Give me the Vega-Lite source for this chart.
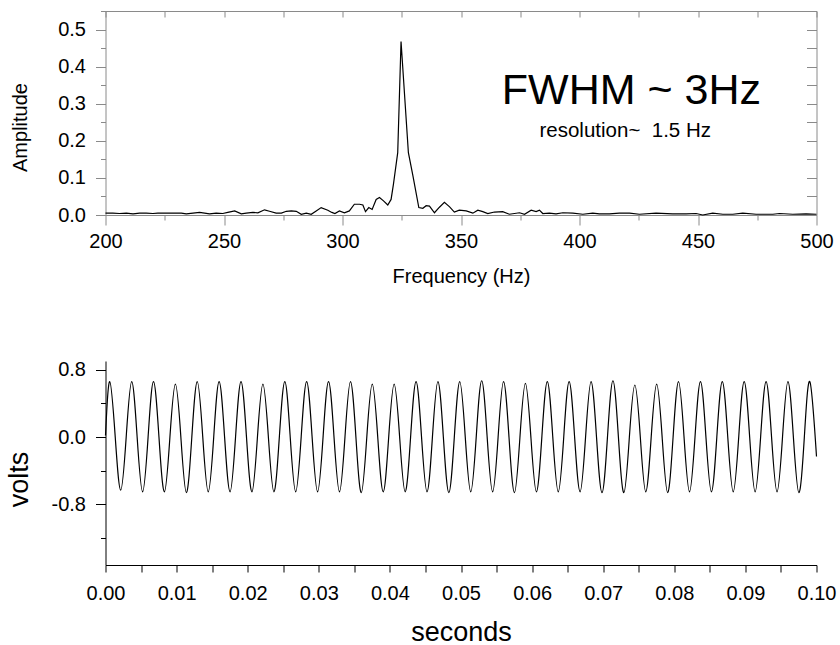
{
  "$schema": "https://vega.github.io/schema/vega-lite/v6.json",
  "background": "white",
  "padding": {"left": 5.5, "top": 10, "right": 0, "bottom": 0},
  "spacing": 73,
  "config": {
    "font": "Liberation Sans",
    "view": {"stroke": null},
    "axis": {"grid": false, "labelFont": "Liberation Sans", "labelFontSize": 20, "labelColor": "#000", "titleFont": "Liberation Sans", "titleFontWeight": "normal", "titleColor": "#000", "tickWidth": 1, "domainWidth": 1, "labelFlush": false}
  },
  "datasets": {
    "spectrum": [
      {"f": 200.0, "a": 0.005}, {"f": 203.1, "a": 0.005}, {"f": 205.9, "a": 0.004}, {"f": 208.8, "a": 0.005}, {"f": 211.6, "a": 0.003},
      {"f": 214.4, "a": 0.005}, {"f": 217.2, "a": 0.005}, {"f": 220.0, "a": 0.004}, {"f": 222.1, "a": 0.005}, {"f": 225.6, "a": 0.005},
      {"f": 229.8, "a": 0.005}, {"f": 232.0, "a": 0.005}, {"f": 234.1, "a": 0.003}, {"f": 236.9, "a": 0.005}, {"f": 239.7, "a": 0.007},
      {"f": 241.8, "a": 0.005}, {"f": 243.9, "a": 0.003}, {"f": 246.7, "a": 0.005}, {"f": 249.5, "a": 0.004}, {"f": 251.6, "a": 0.007},
      {"f": 254.5, "a": 0.011}, {"f": 257.3, "a": 0.003}, {"f": 259.4, "a": 0.005}, {"f": 262.2, "a": 0.007}, {"f": 264.3, "a": 0.006},
      {"f": 267.1, "a": 0.014}, {"f": 269.2, "a": 0.010}, {"f": 272.0, "a": 0.005}, {"f": 274.2, "a": 0.005}, {"f": 276.3, "a": 0.010},
      {"f": 278.4, "a": 0.011}, {"f": 280.5, "a": 0.010}, {"f": 282.6, "a": 0.002}, {"f": 284.7, "a": 0.005}, {"f": 286.8, "a": 0.002},
      {"f": 288.9, "a": 0.011}, {"f": 291.0, "a": 0.020}, {"f": 293.8, "a": 0.013}, {"f": 295.5, "a": 0.007}, {"f": 296.8, "a": 0.004},
      {"f": 298.7, "a": 0.011}, {"f": 300.8, "a": 0.006}, {"f": 302.9, "a": 0.011}, {"f": 305.0, "a": 0.029}, {"f": 307.2, "a": 0.029},
      {"f": 308.6, "a": 0.027}, {"f": 309.7, "a": 0.009}, {"f": 311.1, "a": 0.020}, {"f": 312.5, "a": 0.015}, {"f": 314.2, "a": 0.042},
      {"f": 315.6, "a": 0.047}, {"f": 317.3, "a": 0.038}, {"f": 319.1, "a": 0.027}, {"f": 320.5, "a": 0.042}, {"f": 321.5, "a": 0.083},
      {"f": 323.3, "a": 0.168}, {"f": 324.7, "a": 0.468}, {"f": 327.8, "a": 0.168}, {"f": 329.7, "a": 0.106}, {"f": 332.2, "a": 0.020},
      {"f": 333.9, "a": 0.018}, {"f": 335.3, "a": 0.025}, {"f": 336.7, "a": 0.024}, {"f": 338.8, "a": 0.006}, {"f": 340.9, "a": 0.021},
      {"f": 343.0, "a": 0.034}, {"f": 345.2, "a": 0.022}, {"f": 347.2, "a": 0.008}, {"f": 349.3, "a": 0.013}, {"f": 352.2, "a": 0.011},
      {"f": 355.0, "a": 0.005}, {"f": 357.1, "a": 0.013}, {"f": 359.2, "a": 0.009}, {"f": 361.3, "a": 0.004}, {"f": 364.1, "a": 0.008},
      {"f": 367.6, "a": 0.009}, {"f": 370.4, "a": 0.002}, {"f": 374.7, "a": 0.006}, {"f": 376.8, "a": 0.002}, {"f": 379.6, "a": 0.013},
      {"f": 381.7, "a": 0.009}, {"f": 383.1, "a": 0.013}, {"f": 384.5, "a": 0.004}, {"f": 387.3, "a": 0.005}, {"f": 390.1, "a": 0.003},
      {"f": 393.0, "a": 0.006}, {"f": 397.2, "a": 0.005}, {"f": 401.4, "a": 0.002}, {"f": 405.6, "a": 0.005}, {"f": 408.4, "a": 0.003},
      {"f": 412.6, "a": 0.003}, {"f": 416.8, "a": 0.005}, {"f": 421.1, "a": 0.005}, {"f": 425.3, "a": 0.002}, {"f": 432.3, "a": 0.005},
      {"f": 439.3, "a": 0.003}, {"f": 445.0, "a": 0.003}, {"f": 449.2, "a": 0.004}, {"f": 452.0, "a": 0.000}, {"f": 456.2, "a": 0.005},
      {"f": 460.5, "a": 0.002}, {"f": 464.7, "a": 0.002}, {"f": 468.9, "a": 0.005}, {"f": 474.5, "a": 0.002}, {"f": 481.6, "a": 0.002},
      {"f": 484.4, "a": 0.004}, {"f": 490.0, "a": 0.002}, {"f": 495.6, "a": 0.003}, {"f": 500.0, "a": 0.002}
    ],
    "wave": [
      {"t": 0, "v": 0.02}, {"t": 0.0006, "v": 0.66}, {"t": 0.00137, "v": 0}, {"t": 0.00214, "v": -0.63}, {"t": 0.00291, "v": 0},
      {"t": 0.00368, "v": 0.66}, {"t": 0.00445, "v": 0}, {"t": 0.00522, "v": -0.65}, {"t": 0.00599, "v": 0},
      {"t": 0.00675, "v": 0.66}, {"t": 0.00752, "v": 0}, {"t": 0.00829, "v": -0.65}, {"t": 0.00906, "v": 0},
      {"t": 0.00983, "v": 0.63}, {"t": 0.0106, "v": 0}, {"t": 0.01137, "v": -0.66}, {"t": 0.01214, "v": 0},
      {"t": 0.01291, "v": 0.66}, {"t": 0.01368, "v": 0}, {"t": 0.01445, "v": -0.65}, {"t": 0.01522, "v": 0},
      {"t": 0.01598, "v": 0.66}, {"t": 0.01675, "v": 0}, {"t": 0.01752, "v": -0.65}, {"t": 0.01829, "v": 0},
      {"t": 0.01906, "v": 0.66}, {"t": 0.01983, "v": 0}, {"t": 0.0206, "v": -0.65}, {"t": 0.02137, "v": 0},
      {"t": 0.02214, "v": 0.63}, {"t": 0.02291, "v": 0}, {"t": 0.02368, "v": -0.65}, {"t": 0.02445, "v": 0},
      {"t": 0.02522, "v": 0.66}, {"t": 0.02598, "v": 0}, {"t": 0.02675, "v": -0.65}, {"t": 0.02752, "v": 0},
      {"t": 0.02829, "v": 0.66}, {"t": 0.02906, "v": 0}, {"t": 0.02983, "v": -0.65}, {"t": 0.0306, "v": 0},
      {"t": 0.03137, "v": 0.66}, {"t": 0.03214, "v": 0}, {"t": 0.03291, "v": -0.65}, {"t": 0.03368, "v": 0},
      {"t": 0.03445, "v": 0.66}, {"t": 0.03522, "v": 0}, {"t": 0.03598, "v": -0.66}, {"t": 0.03675, "v": 0},
      {"t": 0.03752, "v": 0.63}, {"t": 0.03829, "v": 0}, {"t": 0.03906, "v": -0.65}, {"t": 0.03983, "v": 0},
      {"t": 0.0406, "v": 0.63}, {"t": 0.04137, "v": 0}, {"t": 0.04214, "v": -0.65}, {"t": 0.04291, "v": 0},
      {"t": 0.04368, "v": 0.66}, {"t": 0.04445, "v": 0}, {"t": 0.04522, "v": -0.65}, {"t": 0.04598, "v": 0},
      {"t": 0.04675, "v": 0.66}, {"t": 0.04752, "v": 0}, {"t": 0.04829, "v": -0.66}, {"t": 0.04906, "v": 0},
      {"t": 0.04983, "v": 0.66}, {"t": 0.0506, "v": 0}, {"t": 0.05137, "v": -0.65}, {"t": 0.05214, "v": 0},
      {"t": 0.05291, "v": 0.67}, {"t": 0.05368, "v": 0}, {"t": 0.05445, "v": -0.65}, {"t": 0.05522, "v": 0},
      {"t": 0.05598, "v": 0.66}, {"t": 0.05675, "v": 0}, {"t": 0.05752, "v": -0.66}, {"t": 0.05829, "v": 0},
      {"t": 0.05906, "v": 0.64}, {"t": 0.05983, "v": 0}, {"t": 0.0606, "v": -0.65}, {"t": 0.06137, "v": 0},
      {"t": 0.06214, "v": 0.66}, {"t": 0.06291, "v": 0}, {"t": 0.06368, "v": -0.65}, {"t": 0.06445, "v": 0},
      {"t": 0.06521, "v": 0.66}, {"t": 0.06598, "v": 0}, {"t": 0.06675, "v": -0.65}, {"t": 0.06752, "v": 0},
      {"t": 0.06829, "v": 0.66}, {"t": 0.06906, "v": 0}, {"t": 0.06983, "v": -0.66}, {"t": 0.0706, "v": 0},
      {"t": 0.07137, "v": 0.67}, {"t": 0.07214, "v": 0}, {"t": 0.07291, "v": -0.66}, {"t": 0.07368, "v": 0},
      {"t": 0.07445, "v": 0.62}, {"t": 0.07522, "v": 0}, {"t": 0.07598, "v": -0.65}, {"t": 0.07675, "v": 0},
      {"t": 0.07752, "v": 0.63}, {"t": 0.07829, "v": 0}, {"t": 0.07906, "v": -0.66}, {"t": 0.07983, "v": 0},
      {"t": 0.0806, "v": 0.66}, {"t": 0.08137, "v": 0}, {"t": 0.08214, "v": -0.65}, {"t": 0.08291, "v": 0},
      {"t": 0.08368, "v": 0.66}, {"t": 0.08445, "v": 0}, {"t": 0.08522, "v": -0.65}, {"t": 0.08598, "v": 0},
      {"t": 0.08675, "v": 0.66}, {"t": 0.08752, "v": 0}, {"t": 0.08829, "v": -0.65}, {"t": 0.08906, "v": 0},
      {"t": 0.08983, "v": 0.66}, {"t": 0.0906, "v": 0}, {"t": 0.09137, "v": -0.65}, {"t": 0.09214, "v": 0},
      {"t": 0.09291, "v": 0.66}, {"t": 0.09368, "v": 0}, {"t": 0.09445, "v": -0.65}, {"t": 0.09522, "v": 0},
      {"t": 0.09598, "v": 0.66}, {"t": 0.09675, "v": 0}, {"t": 0.09752, "v": -0.66}, {"t": 0.09829, "v": 0},
      {"t": 0.09906, "v": 0.66}, {"t": 0.1, "v": -0.23}
    ]
  },
  "vconcat": [
    {
      "width": 711,
      "height": 204,
      "data": {"name": "spectrum"},
      "layer": [
        {
          "mark": {"type": "line", "color": "#000", "strokeWidth": 1.2},
          "encoding": {
            "x": {"field": "f", "type": "quantitative", "scale": {"domain": [200, 500], "nice": false, "zero": false},
              "axis": {"orient": "bottom", "values": [200, 250, 300, 350, 400, 450, 500], "format": "d", "tickSize": 10, "labelPadding": 6, "title": "Frequency (Hz)", "titleFontSize": 20, "titlePadding": 15, "domainColor": "#8a8a8a", "tickColor": "#8a8a8a"}},
            "y": {"field": "a", "type": "quantitative", "scale": {"domain": [0, 0.55], "nice": false, "zero": false},
              "axis": {"orient": "left", "values": [0, 0.1, 0.2, 0.3, 0.4, 0.5], "format": ".1f", "tickSize": 10, "labelPadding": 10, "title": "Amplitude", "titleFontSize": 20, "titlePadding": 27, "titleY": 116, "domainColor": "#8a8a8a", "tickColor": "#8a8a8a"}}
          }
        },
        {
          "mark": {"type": "line", "opacity": 0},
          "encoding": {
            "x": {"field": "f", "type": "quantitative", "scale": {"domain": [200, 500], "nice": false, "zero": false},
              "axis": {"orient": "bottom", "values": [225, 275, 325, 375, 425, 475], "tickSize": 5, "labels": false, "domain": false, "title": null, "tickColor": "#8a8a8a"}},
            "y": {"field": "a", "type": "quantitative", "scale": {"domain": [0, 0.55], "nice": false, "zero": false},
              "axis": {"orient": "left", "values": [0.05, 0.15, 0.25, 0.35, 0.45, 0.55], "tickSize": 5, "labels": false, "domain": false, "title": null, "tickColor": "#8a8a8a"}}
          }
        },
        {
          "mark": {"type": "line", "opacity": 0},
          "encoding": {
            "x": {"field": "f", "type": "quantitative", "scale": {"domain": [200, 500], "nice": false, "zero": false},
              "axis": {"orient": "top", "values": [200, 225, 250, 275, 300, 325, 350, 375, 400, 425, 450, 475, 500], "tickSize": -6, "labels": false, "title": null, "domainColor": "#8a8a8a", "tickColor": "#8a8a8a"}},
            "y": {"field": "a", "type": "quantitative", "scale": {"domain": [0, 0.55], "nice": false, "zero": false},
              "axis": {"orient": "right", "values": [0, 0.05, 0.1, 0.15, 0.2, 0.25, 0.3, 0.35, 0.4, 0.45, 0.5, 0.55], "tickSize": -10, "labels": false, "title": null, "domainColor": "#8a8a8a", "tickColor": "#8a8a8a"}}
          }
        },
        {
          "data": {"values": [{}]},
          "mark": {"type": "text", "fontSize": 43, "align": "center", "baseline": "alphabetic", "color": "#000", "font": "Liberation Sans"},
          "encoding": {
            "x": {"datum": 421.9, "type": "quantitative", "axis": null},
            "y": {"datum": 0.3, "type": "quantitative", "axis": null},
            "text": {"value": "FWHM ~ 3Hz"}
          }
        },
        {
          "data": {"values": [{}]},
          "mark": {"type": "text", "fontSize": 20.5, "align": "center", "baseline": "alphabetic", "color": "#000", "font": "Liberation Sans"},
          "encoding": {
            "x": {"datum": 419.3, "type": "quantitative", "axis": null},
            "y": {"datum": 0.211, "type": "quantitative", "axis": null},
            "text": {"value": "resolution~\u00a0 1.5 Hz"}
          }
        }
      ],
      "resolve": {"axis": {"x": "independent", "y": "independent"}}
    },
    {
      "width": 711,
      "height": 204,
      "data": {"name": "wave"},
      "layer": [
        {
          "mark": {"type": "line", "color": "#000", "strokeWidth": 1.2, "interpolate": "natural"},
          "encoding": {
            "x": {"field": "t", "type": "quantitative", "scale": {"domain": [0, 0.1], "nice": false, "zero": false},
              "axis": {"orient": "bottom", "values": [0, 0.01, 0.02, 0.03, 0.04, 0.05, 0.06, 0.07, 0.08, 0.09, 0.1], "format": ".2f", "tickSize": 7, "labelPadding": 11, "title": "seconds", "titleFontSize": 27, "titlePadding": 16, "domainColor": "#000", "tickColor": "#000"}},
            "y": {"field": "v", "type": "quantitative", "scale": {"domain": [-1.52, 0.905], "nice": false, "zero": false},
              "axis": {"orient": "left", "values": [-0.8, 0, 0.8], "labelExpr": "datum.value < 0 ? '-0.8' : format(datum.value, '.1f')", "tickSize": 10, "labelPadding": 10, "title": "volts", "titleFontSize": 27, "titlePadding": 17.5, "titleY": 118, "domainColor": "#000", "tickColor": "#000"}}
          }
        },
        {
          "mark": {"type": "line", "opacity": 0},
          "encoding": {
            "x": {"field": "t", "type": "quantitative", "scale": {"domain": [0, 0.1], "nice": false, "zero": false},
              "axis": {"orient": "bottom", "values": [0.005, 0.015, 0.025, 0.035, 0.045, 0.055, 0.065, 0.075, 0.085, 0.095], "tickSize": 7, "labels": false, "domain": false, "title": null, "tickColor": "#000"}},
            "y": {"field": "v", "type": "quantitative", "scale": {"domain": [-1.52, 0.905], "nice": false, "zero": false},
              "axis": {"orient": "left", "values": [0.4, -0.4, -1.2], "tickSize": 5, "labels": false, "domain": false, "title": null, "tickColor": "#000"}}
          }
        }
      ],
      "resolve": {"axis": {"x": "independent", "y": "independent"}}
    }
  ]
}
